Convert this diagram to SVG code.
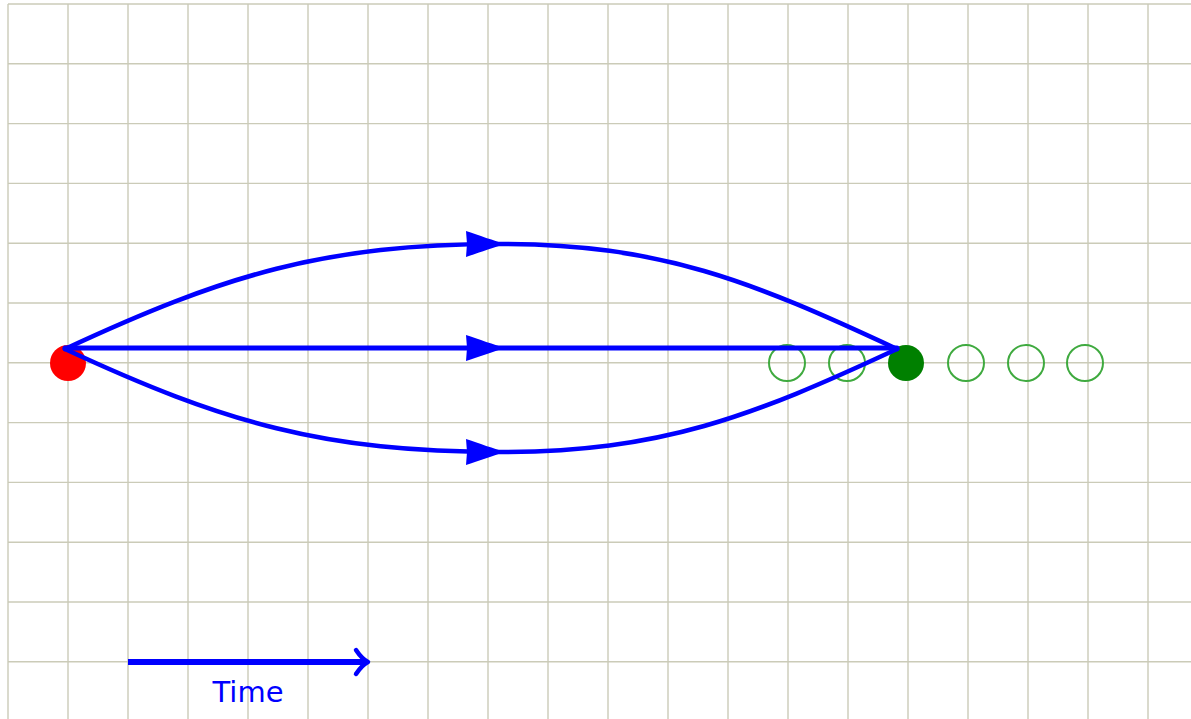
<svg xmlns="http://www.w3.org/2000/svg" xmlns:xlink="http://www.w3.org/1999/xlink" width="1191" height="719" viewBox="0 0 1191 719">
  <style>
    .grid line { stroke: #cbcbb8; stroke-width: 1.4; }
    .path { fill: none; stroke: #0000ff; stroke-width: 4.6; stroke-linecap: round; }
    .head { fill: #0000ff; }
    .ghost { fill: none; stroke: #3faa3f; stroke-width: 2; }
    .label { font-family: "DejaVu Sans", "Liberation Sans", sans-serif; font-size: 29px; fill: #0000ff; }
  </style>
  <defs>
    <!-- filled arrow tip, tip at origin pointing right -->
    <path id="tip" d="M0,0 C-10,-3 -27,-9 -39,-13 L-38,0 L-39,13 C-27,9 -10,3 0,0 Z"/>
  </defs>
  <rect width="1191" height="719" fill="#ffffff"/>

  <!-- background grid -->
  <g class="grid" id="grid">
    <line x1="8" y1="4" x2="1191" y2="4"/>
    <line x1="8" y1="63.8" x2="1191" y2="63.8"/>
    <line x1="8" y1="123.6" x2="1191" y2="123.6"/>
    <line x1="8" y1="183.4" x2="1191" y2="183.4"/>
    <line x1="8" y1="243.2" x2="1191" y2="243.2"/>
    <line x1="8" y1="303" x2="1191" y2="303"/>
    <line x1="8" y1="362.8" x2="1191" y2="362.8"/>
    <line x1="8" y1="422.6" x2="1191" y2="422.6"/>
    <line x1="8" y1="482.4" x2="1191" y2="482.4"/>
    <line x1="8" y1="542.2" x2="1191" y2="542.2"/>
    <line x1="8" y1="602" x2="1191" y2="602"/>
    <line x1="8" y1="661.8" x2="1191" y2="661.8"/>
    <line x1="8" y1="4" x2="8" y2="719"/>
    <line x1="68" y1="4" x2="68" y2="719"/>
    <line x1="128" y1="4" x2="128" y2="719"/>
    <line x1="188" y1="4" x2="188" y2="719"/>
    <line x1="248" y1="4" x2="248" y2="719"/>
    <line x1="308" y1="4" x2="308" y2="719"/>
    <line x1="368" y1="4" x2="368" y2="719"/>
    <line x1="428" y1="4" x2="428" y2="719"/>
    <line x1="488" y1="4" x2="488" y2="719"/>
    <line x1="548" y1="4" x2="548" y2="719"/>
    <line x1="608" y1="4" x2="608" y2="719"/>
    <line x1="668" y1="4" x2="668" y2="719"/>
    <line x1="728" y1="4" x2="728" y2="719"/>
    <line x1="788" y1="4" x2="788" y2="719"/>
    <line x1="848" y1="4" x2="848" y2="719"/>
    <line x1="908" y1="4" x2="908" y2="719"/>
    <line x1="968" y1="4" x2="968" y2="719"/>
    <line x1="1028" y1="4" x2="1028" y2="719"/>
    <line x1="1088" y1="4" x2="1088" y2="719"/>
    <line x1="1148" y1="4" x2="1148" y2="719"/>
  </g>

  <!-- later positions (hollow) -->
  <g id="future">
    <circle class="ghost" cx="787" cy="363" r="18"/>
    <circle class="ghost" cx="847" cy="363" r="18"/>
    <circle class="ghost" cx="966" cy="363" r="18"/>
    <circle class="ghost" cx="1026" cy="363" r="18"/>
    <circle class="ghost" cx="1085" cy="363" r="18"/>
  </g>

  <!-- endpoints -->
  <g id="start">
    <circle cx="68" cy="363" r="18" fill="#ff0000"/>
  </g>
  <g id="end">
    <circle cx="906" cy="363" r="18" fill="#008000"/>
  </g>

  <!-- paths from start to end -->
  <g id="connectors">
    <path class="path" d="M65,349 C224,275 325,244 500,244 C661,244 751,281 897,349"/>
    <path class="path" d="M65,348 L897,348" style="stroke-width:5"/>
    <path class="path" d="M65,349 C224,423 325,452 500,452 C661,452 751,417 897,349"/>
    <use href="#tip" xlink:href="#tip" class="head" x="505" y="244"/>
    <use href="#tip" xlink:href="#tip" class="head" x="505" y="348"/>
    <use href="#tip" xlink:href="#tip" class="head" x="505" y="452"/>
  </g>

  <!-- time axis -->
  <g id="time">
    <path class="path" d="M128,662 L366,662" style="stroke-width:6;stroke-linecap:butt"/>
    <path d="M356,650 Q362,659 368,662 Q362,665 356,674" fill="none" stroke="#0000ff" stroke-width="4.5" stroke-linecap="round" stroke-linejoin="round"/>
    <text class="label" x="248" y="702" text-anchor="middle">Time</text>
  </g>
</svg>
